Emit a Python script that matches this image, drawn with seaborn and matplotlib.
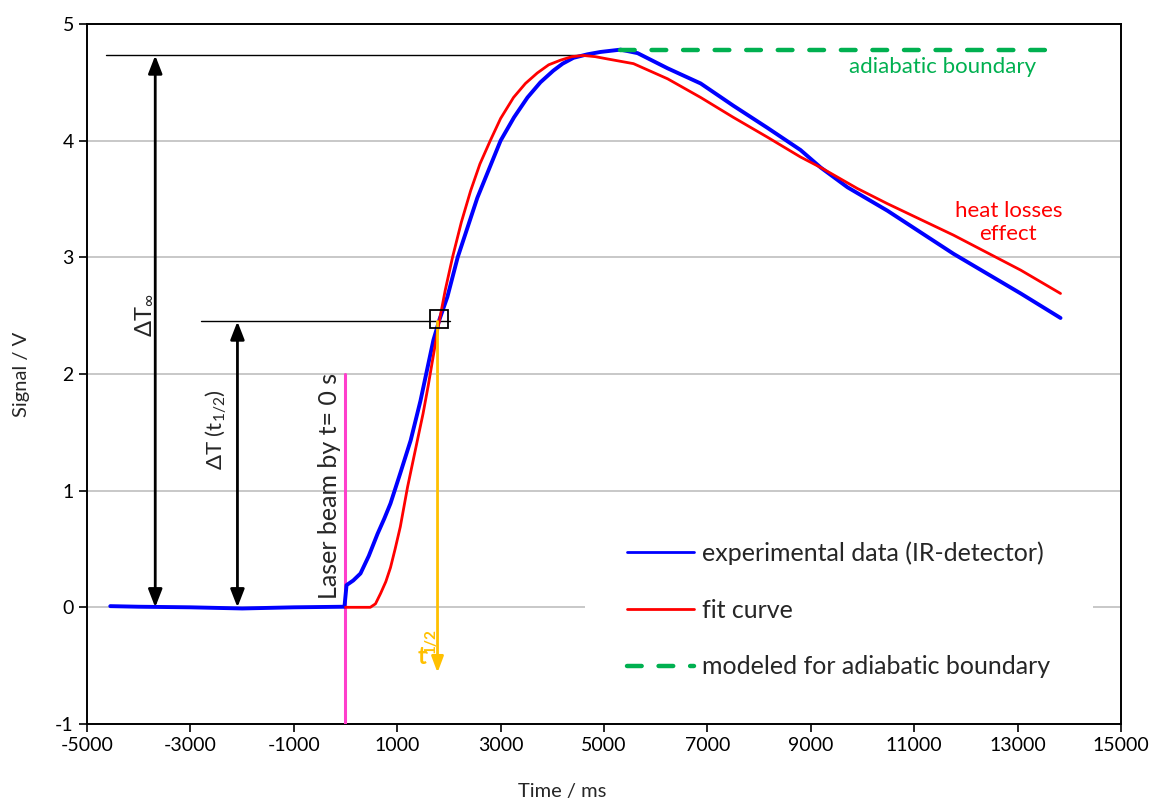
import numpy as np
import pandas as pd
import matplotlib
matplotlib.use("Agg")
import matplotlib.pyplot as plt
from matplotlib.lines import Line2D
import seaborn as sns

# ---------------- data ----------------
blue_t = [-4550, -4000, -3000, -2000, -1000, -20, 20, 150, 290, 450, 620, 750, 870, 1060,
          1260, 1450, 1700, 1820, 1970, 2170, 2550, 3000, 3260, 3520, 3770, 4020, 4200,
          4410, 4680, 4930, 5320, 5650, 6230, 6870, 7500, 8160, 8800, 9190, 9710, 10480,
          11760, 13060, 13830]
blue_v = [0.01, 0.005, 0.0, -0.01, 0.0, 0.005, 0.19, 0.23, 0.29, 0.44, 0.63, 0.76, 0.89,
          1.15, 1.43, 1.77, 2.29, 2.47, 2.66, 3.0, 3.51, 4.0, 4.2, 4.37, 4.5, 4.6, 4.66,
          4.71, 4.74, 4.76, 4.78, 4.75, 4.62, 4.49, 4.30, 4.11, 3.92, 3.77, 3.60, 3.40,
          3.03, 2.69, 2.48]

red_t = [0, 480, 580, 680, 780, 870, 960, 1060, 1130, 1200, 1290, 1390, 1500, 1600, 1700,
         1800, 1930, 2070, 2240, 2420, 2600, 2800, 3000, 3250, 3480, 3710, 3930, 4160, 4380,
         4600, 4830, 5070, 5320, 5570, 6230, 6870, 7500, 8160, 8800, 9190, 9900, 10480,
         11760, 13060, 13830]
red_v = [0.0, 0.0, 0.03, 0.12, 0.22, 0.34, 0.50, 0.69, 0.86, 1.03, 1.22, 1.43, 1.66, 1.90,
         2.16, 2.42, 2.72, 3.0, 3.30, 3.57, 3.80, 4.0, 4.19, 4.37, 4.49, 4.58, 4.65, 4.69,
         4.72, 4.73, 4.72, 4.70, 4.68, 4.66, 4.53, 4.37, 4.20, 4.03, 3.86, 3.77, 3.59, 3.46,
         3.19, 2.89, 2.69]

adiabatic_t = [5300, 13600]
adiabatic_v = [4.78, 4.78]

dT_inf = 4.73
dT_half = 2.45
t_half = 1800
laser_t = 0

x_ticks = list(range(-5000, 15001, 2000))
y_ticks = list(range(-1, 6))
legend_labels = ["experimental data (IR-detector)", "fit curve", "modeled for adiabatic boundary"]

df_blue = pd.DataFrame({"t": blue_t, "v": blue_v})
df_red = pd.DataFrame({"t": red_t, "v": red_v})
df_green = pd.DataFrame({"t": adiabatic_t, "v": adiabatic_v})

# ---------------- styling ----------------
sns.set_theme(style="ticks")
plt.rcParams["font.family"] = ["Lato", "DejaVu Sans"]
plt.rcParams["mathtext.fontset"] = "custom"
plt.rcParams["mathtext.rm"] = "Lato"
plt.rcParams["mathtext.it"] = "Lato"

BLUE = "#0000FF"
RED = "#FF0000"
GREEN = "#00B050"
PINK = "#FF3FCC"
ORANGE = "#FFC000"

fig = plt.figure(figsize=(11.63, 8.10), dpi=100)
ax = fig.add_axes([0.0748, 0.1062, 0.8891, 0.8642])

ax.set_xlim(-5000, 15000)
ax.set_ylim(-1, 5)
ax.set_xticks(x_ticks)
ax.set_yticks(y_ticks)
ax.set_xticklabels([str(v) for v in x_ticks], fontsize=14)
ax.set_yticklabels([str(v) for v in y_ticks], fontsize=14)
ax.yaxis.grid(True, color="#BFBFBF", lw=1.2)
ax.set_axisbelow(True)
for s in ax.spines.values():
    s.set_color("black")
    s.set_linewidth(1.4)
ax.tick_params(direction="out", length=6, width=1.2, color="black", labelcolor="black")

ax.set_xlabel("Time / ms", fontsize=14.5, labelpad=20)
ax.xaxis.set_label_coords(0.46, -0.085)
ax.set_ylabel("Signal / V", fontsize=14.5, labelpad=18)

# ---------------- annotation lines ----------------
ax.plot([-4640, 4700], [dT_inf, dT_inf], color="black", lw=1, zorder=2)
ax.plot([-2800, 2030], [dT_half, dT_half], color="black", lw=1, zorder=2)

arrow_kw = dict(arrowstyle="<|-|>,head_length=0.9,head_width=0.35", color="black", lw=2,
                shrinkA=0, shrinkB=0)
ax.annotate("", xy=(-3680, 0), xytext=(-3680, dT_inf), arrowprops=arrow_kw, zorder=4)
ax.annotate("", xy=(-2090, 0), xytext=(-2090, dT_half), arrowprops=arrow_kw, zorder=4)

ax.text(-3900, 2.50, r"ΔT$_{\infty}$", rotation=90, ha="center", va="center", fontsize=17)
ax.text(-2500, 1.52, r"ΔT (t$_{1/2}$)", rotation=90, ha="center", va="center", fontsize=16)

# laser line
ax.plot([laser_t, laser_t], [-1, 2], color=PINK, lw=2.2, zorder=3)
ax.text(-80, 0.07, "Laser beam by t= 0 s", rotation=90, ha="right", va="bottom", fontsize=18)

# ---------------- data lines ----------------
sns.lineplot(data=df_blue, x="t", y="v", sort=False, estimator=None, color=BLUE, lw=2.8,
             ax=ax, zorder=5)
sns.lineplot(data=df_red, x="t", y="v", sort=False, estimator=None, color=RED, lw=2,
             ax=ax, zorder=6)
dash_style = (0, (3.3, 3.8))
sns.lineplot(data=df_green, x="t", y="v", sort=False, estimator=None, color=GREEN, lw=3.2,
             ax=ax, zorder=7, linestyle=dash_style)
ax.lines[-1].set_dash_capstyle("round")

# t1/2 arrow
ax.annotate("", xy=(t_half - 20, -0.56), xytext=(t_half - 20, dT_half),
            arrowprops=dict(arrowstyle="-|>,head_length=0.8,head_width=0.3", color=ORANGE,
                            lw=2, shrinkA=0, shrinkB=0), zorder=7)
ax.text(1480, -0.42, "t", color=ORANGE, fontsize=17, fontweight="bold", ha="center", va="center")
ax.text(1660, -0.29, "1/2", color=ORANGE, fontsize=11, fontweight="bold", rotation=90,
        ha="center", va="center")

# t1/2 marker
ax.plot([1818], [2.47], marker="s", markersize=13, markerfacecolor="none",
        markeredgecolor="black", markeredgewidth=1.3, zorder=8)

# texts
ax.text(11550, 4.63, "adiabatic boundary", color=GREEN, fontsize=16, ha="center", va="center")
ax.text(12820, 3.30, "heat losses\neffect", color=RED, fontsize=16, ha="center", va="center",
        linespacing=1.2)

# ---------------- legend ----------------
handles = [Line2D([], [], color=BLUE, lw=2),
           Line2D([], [], color=RED, lw=2),
           Line2D([], [], color=GREEN, lw=3.2, linestyle=dash_style, dash_capstyle="round")]
leg = ax.legend(handles, legend_labels, loc="center left", bbox_to_anchor=(0.4816, 0.163),
                borderaxespad=0, frameon=True, facecolor="white", edgecolor="none",
                framealpha=1, fontsize=18, handlelength=2.65, handletextpad=0.35,
                labelspacing=1.35, borderpad=1.7)
leg.set_zorder(10)

fig.savefig("out.png", dpi=100)
